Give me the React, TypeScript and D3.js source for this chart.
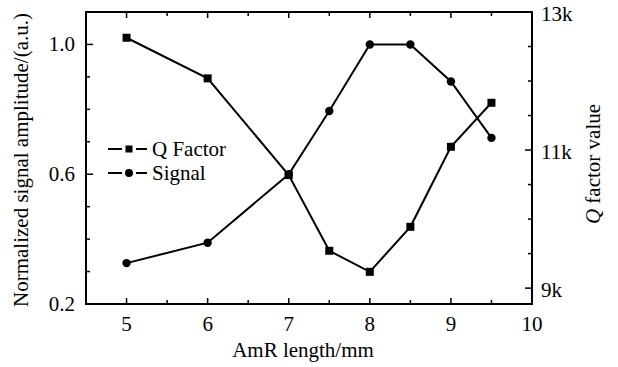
import React, { useEffect, useRef } from 'react';
import * as d3 from 'd3';

const lengths = [5, 6, 7, 7.5, 8, 8.5, 9, 9.5];
const signal = [0.326, 0.389, 0.6, 0.795, 1.0, 1.0, 0.886, 0.712];
const qFactor = [12627, 12039, 10638, 9541, 9236, 9888, 11048, 11685];
const xTicks = [5, 6, 7, 8, 9, 10];
const leftTicks = [0.2, 0.6, 1.0];
const rightTicks = [9000, 11000, 13000];

const width = 618, height = 367;
const margin = { left: 86, right: 86, top: 12, bottom: 63 };

export default function App() {
  const ref = useRef<SVGSVGElement>(null);

  useEffect(() => {
    const svg = d3.select(ref.current);
    svg.selectAll('*').remove();
    const x0 = margin.left, x1 = width - margin.right;
    const y0 = height - margin.bottom, y1 = margin.top;

    const x = d3.scaleLinear().domain([4.5, 10]).range([x0, x1]);
    const yL = d3.scaleLinear().domain([0.2, 1.1]).range([y0, y1]);
    const yR = d3.scaleLinear().domain([8770, 13000]).range([y0, y1]);

    const g = svg.append('g');
    const txt = (sel: any) => sel.attr('style', 'font-family: "Liberation Serif"; font-size: 21px');

    // ticks, inward
    d3.range(5, 10.01, 0.5).forEach(v => {
      const major = Math.abs(v - Math.round(v)) < 1e-6;
      const len = major ? 6 : 4;
      g.append('line').attr('x1', x(v)).attr('x2', x(v)).attr('y1', y0).attr('y2', y0 - len)
        .attr('stroke', '#000').attr('stroke-width', 1.5);
      if (v < 10) g.append('line').attr('x1', x(v)).attr('x2', x(v)).attr('y1', y1).attr('y2', y1 + len)
        .attr('stroke', '#000').attr('stroke-width', 1.5);
    });
    d3.range(0.3, 1.05, 0.1).forEach(v => {
      const major = leftTicks.some(t => Math.abs(t - v) < 1e-6);
      g.append('line').attr('x1', x0).attr('x2', x0 + (major ? 7 : 4)).attr('y1', yL(v)).attr('y2', yL(v))
        .attr('stroke', '#000').attr('stroke-width', 1.5);
    });
    d3.range(9000, 13001, 500).forEach(v => {
      const major = rightTicks.includes(v);
      g.append('line').attr('x1', x1).attr('x2', x1 - (major ? 7 : 4)).attr('y1', yR(v)).attr('y2', yR(v))
        .attr('stroke', '#000').attr('stroke-width', 1.5);
    });

    // frame
    g.append('rect').attr('x', x0).attr('y', y1).attr('width', x1 - x0).attr('height', y0 - y1)
      .attr('fill', 'none').attr('stroke', '#000').attr('stroke-width', 2);

    // tick labels
    g.selectAll('.xl').data(xTicks).enter().append('text').call(txt)
      .attr('x', d => x(d)).attr('y', y0 + 27).attr('text-anchor', 'middle').text(d => d);
    g.selectAll('.yl').data(leftTicks).enter().append('text').call(txt)
      .attr('x', x0 - 11).attr('y', d => yL(d) + 7).attr('text-anchor', 'end').text(d => d.toFixed(1));
    g.selectAll('.yr').data(rightTicks).enter().append('text').call(txt)
      .attr('x', x1 + 9).attr('y', d => yR(d) + 9).attr('text-anchor', 'start').text(d => `${d / 1000}k`);

    // axis titles
    g.append('text').call(txt).attr('x', 303).attr('y', height - 10).attr('text-anchor', 'middle').text('AmR length/mm');
    g.append('text').call(txt).attr('transform', `translate(28,160) rotate(-90)`)
      .attr('text-anchor', 'middle').text('Normalized signal amplitude/(a.u.)');
    const rt = g.append('text').call(txt).attr('transform', `translate(600,164) rotate(-90)`)
      .attr('text-anchor', 'middle');
    rt.append('tspan').attr('font-style', 'italic').text('Q');
    rt.append('tspan').text(' factor value');

    // series
    const lineQ = d3.line<number>().x((d, i) => x(lengths[i])).y(d => yR(d));
    const lineS = d3.line<number>().x((d, i) => x(lengths[i])).y(d => yL(d));
    g.append('path').attr('d', lineQ(qFactor)).attr('fill', 'none').attr('stroke', '#000').attr('stroke-width', 2);
    g.append('path').attr('d', lineS(signal)).attr('fill', 'none').attr('stroke', '#000').attr('stroke-width', 2);
    g.selectAll('.sq').data(qFactor).enter().append('rect')
      .attr('x', (d, i) => x(lengths[i]) - 4).attr('y', d => yR(d) - 4)
      .attr('width', 8).attr('height', 8).attr('fill', '#000');
    g.selectAll('.ci').data(signal).enter().append('circle')
      .attr('cx', (d, i) => x(lengths[i])).attr('cy', d => yL(d)).attr('r', 4.2).attr('fill', '#000');

    // legend
    const lg = g.append('g');
    const seg = (y: number) => {
      lg.append('line').attr('x1', 108).attr('x2', 122).attr('y1', y).attr('y2', y).attr('stroke', '#000').attr('stroke-width', 2);
      lg.append('line').attr('x1', 136).attr('x2', 147).attr('y1', y).attr('y2', y).attr('stroke', '#000').attr('stroke-width', 2);
    };
    seg(149);
    lg.append('rect').attr('x', 125.5).attr('y', 145.5).attr('width', 7).attr('height', 7).attr('fill', '#000');
    lg.append('text').call(txt).attr('x', 152).attr('y', 156).text('Q Factor');
    seg(173);
    lg.append('circle').attr('cx', 129).attr('cy', 173).attr('r', 4).attr('fill', '#000');
    lg.append('text').call(txt).attr('x', 152).attr('y', 180).text('Signal');
  }, []);

  return (
    <div style={{ position: 'absolute', left: 0, top: 0 }}>
      <svg ref={ref} width={width} height={height} style={{ display: 'block', background: '#fff' }} />
    </div>
  );
}
